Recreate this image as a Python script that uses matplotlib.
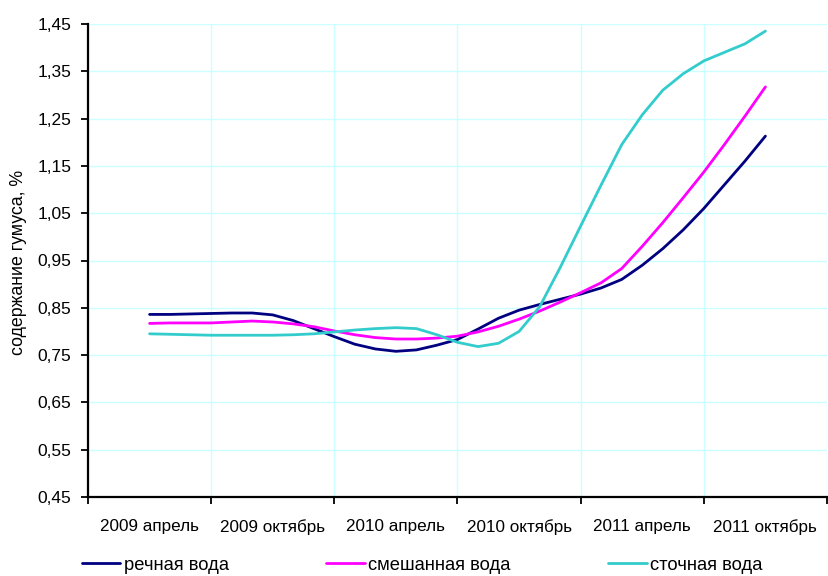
import matplotlib
matplotlib.use("Agg")
import matplotlib.pyplot as plt
from matplotlib.ticker import FixedLocator, NullFormatter, FixedFormatter

plt.rcParams['font.family'] = ['Liberation Sans', 'DejaVu Sans']

# monthly observations, April 2009 .. October 2011
months = list(range(31))
category_labels = ["2009 апрель", "2009 октябрь", "2010 апрель",
                   "2010 октябрь", "2011 апрель", "2011 октябрь"]
category_centers = [0, 6, 12, 18, 24, 30]

river = [0.836, 0.836, 0.837, 0.838, 0.839, 0.839, 0.835, 0.823, 0.806, 0.789,
         0.773, 0.763, 0.758, 0.761, 0.771, 0.783, 0.805, 0.828, 0.845, 0.857,
         0.868, 0.879, 0.892, 0.910, 0.940, 0.975, 1.015, 1.060, 1.110, 1.160,
         1.213]
mixed = [0.817, 0.818, 0.818, 0.818, 0.820, 0.822, 0.820, 0.816, 0.810, 0.801,
         0.793, 0.787, 0.784, 0.784, 0.786, 0.790, 0.799, 0.811, 0.826, 0.843,
         0.862, 0.882, 0.903, 0.933, 0.980, 1.030, 1.083, 1.137, 1.195, 1.255,
         1.317]
waste = [0.795, 0.794, 0.793, 0.792, 0.792, 0.792, 0.792, 0.793, 0.795, 0.799,
         0.803, 0.806, 0.808, 0.806, 0.793, 0.777, 0.768, 0.775, 0.800, 0.852,
         0.935, 1.023, 1.110, 1.195, 1.258, 1.310, 1.345, 1.372, 1.390, 1.408,
         1.435]

series_names = ["речная вода", "смешанная вода", "сточная вода"]
colors = ["#000080", "#FF00FF", "#33CCCC"]

W, H = 829, 576
fig = plt.figure(figsize=(W / 100, H / 100), dpi=100)
ax = fig.add_axes([88 / W, 1 - 497 / H, (827 - 88) / W, (497 - 24) / H])

for vals, name, c in zip([river, mixed, waste], series_names, colors):
    ax.plot(months, vals, color=c, lw=2.0, label=name, solid_capstyle='round')

ax.set_xlim(-3, 33)
ax.set_ylim(0.45, 1.45)

yt = [0.45 + 0.1 * i for i in range(11)]
ax.set_yticks(yt)
ax.set_yticklabels([f"{v:.2f}".replace('.', ',') for v in yt], fontsize=12.5)

boundaries = [-3, 3, 9, 15, 21, 27, 33]
ax.xaxis.set_major_locator(FixedLocator(boundaries))
ax.xaxis.set_major_formatter(NullFormatter())
ax.xaxis.set_minor_locator(FixedLocator(category_centers))
ax.xaxis.set_minor_formatter(FixedFormatter(category_labels))
ax.tick_params(axis='x', which='minor', length=0, labelsize=12.3, pad=16)
ax.tick_params(axis='x', which='major', length=5, width=1.3, direction='out')
ax.tick_params(axis='y', length=5, width=1.3, direction='out', pad=7)

ax.grid(True, which='major', color='#ccffff', lw=1.0)
ax.set_axisbelow(True)
for s in ['top', 'right']:
    ax.spines[s].set_visible(False)
for s in ['left', 'bottom']:
    ax.spines[s].set_linewidth(1.6)
    ax.spines[s].set_color('black')

fig.text(19 / W, 1 - 262 / H, "содержание гумуса, %", rotation=90,
         ha='center', va='center', fontsize=12.8)

fig.legend(loc='center left', bbox_to_anchor=(82 / W, 1 - 565 / H), ncol=3,
           frameon=False, fontsize=13.2, handlelength=2.1, handletextpad=0.2,
           columnspacing=5.3, borderaxespad=0, borderpad=0)

fig.savefig("out.png", dpi=100)
